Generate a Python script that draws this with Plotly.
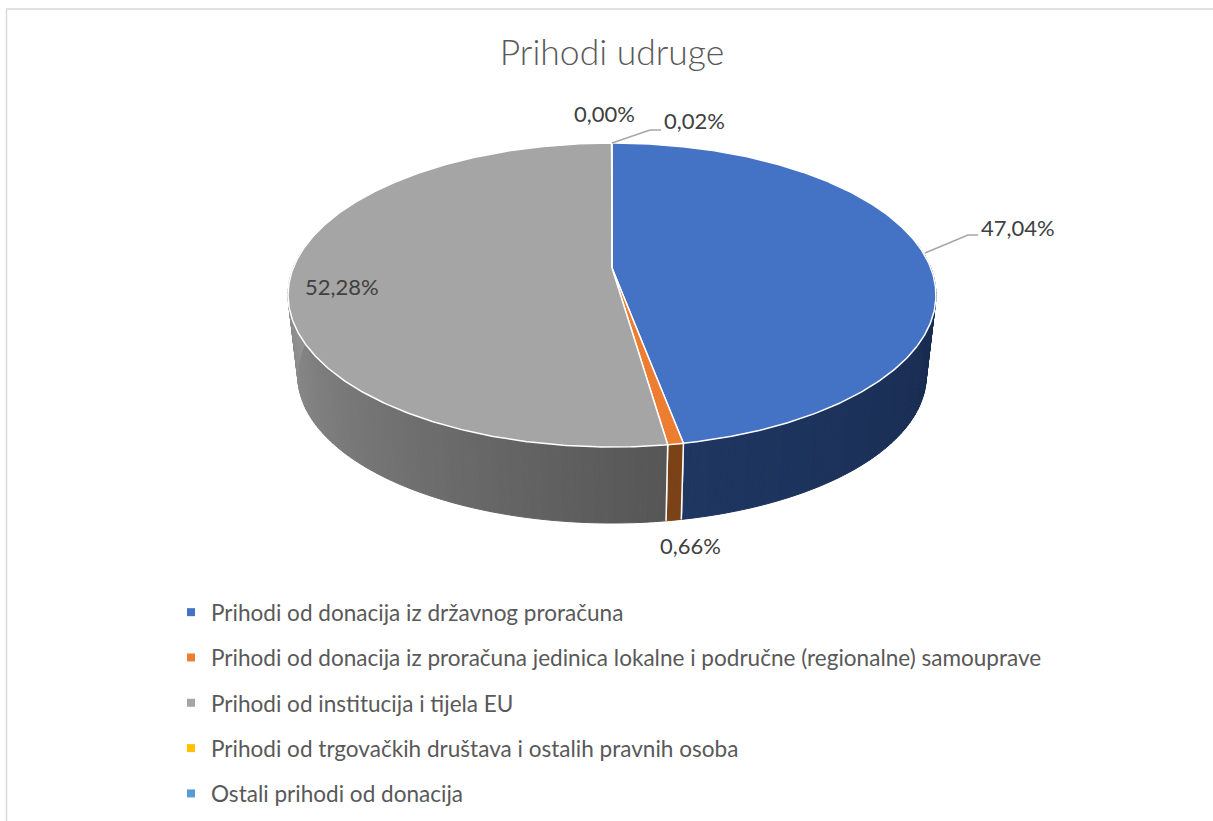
import math
import plotly.graph_objects as go

# ---- data ----
categories = [
    "Prihodi od donacija iz državnog proračuna",
    "Prihodi od donacija iz proračuna jedinica lokalne i područne (regionalne) samouprave",
    "Prihodi od institucija i tijela EU",
    "Prihodi od trgovačkih društava i ostalih pravnih osoba",
    "Ostali prihodi od donacija",
]
values = [47.04, 0.66, 52.28, 0.00, 0.02]
colors = ["#4472C4", "#ED7D31", "#A5A5A5", "#FFC000", "#5B9BD5"]
title = "Prihodi udruge"

# ---- 3D pie projection (style/geometry, in plot units) ----
W, H = 1213, 821
CX, APEX_Y = 612, 268
A, B, K = 318.8, 147.2, 0.1776   # perspective parameters of the top disc
BOTTOM_SCALE, BOTTOM_APEX_Y = 0.97, 349.4
FONT = "Lato"


def top(theta):
    u, v = math.sin(theta), math.cos(theta)
    w = 1 + K * v
    return CX + A * u / w, APEX_Y - B * v / w


def bottom(theta):
    u, v = math.sin(theta), math.cos(theta)
    w = 1 + K * v
    return CX + BOTTOM_SCALE * A * u / w, BOTTOM_APEX_Y - BOTTOM_SCALE * B * v / w


def mix(c1, c2, t):
    return "rgb(%d,%d,%d)" % tuple(round(a + (b - a) * t) for a, b in zip(c1, c2))


SIDE_RAMPS = {
    0: ((22, 40, 74), (30, 54, 97)),
    1: ((122, 66, 22), (122, 66, 22)),
    2: ((86, 86, 86), (152, 152, 152)),
    3: ((128, 96, 0), (128, 96, 0)),
    4: ((46, 78, 107), (46, 78, 107)),
}

total = sum(values)
edges = [0.0]
for v in values:
    edges.append(edges[-1] + v / total * 2 * math.pi)

fig = go.Figure()

# side walls: thin strips, shaded along the visible arc
for i, v in enumerate(values):
    a0, a1 = edges[i], edges[i + 1]
    lo, hi = max(a0, math.radians(80)), min(a1, math.radians(280))
    if hi <= lo:
        continue
    n = max(1, int(math.degrees(hi - lo)))
    c_start, c_end = SIDE_RAMPS[i]
    for j in range(n):
        t0 = lo + (hi - lo) * j / n
        t1 = lo + (hi - lo) * (j + 1) / n
        p = [top(t0), top(t1), bottom(t1), bottom(t0), top(t0)]
        col = mix(c_start, c_end, j / max(n - 1, 1))
        fig.add_trace(go.Scatter(x=[q[0] for q in p], y=[q[1] for q in p], mode="lines",
                                 fill="toself", fillcolor=col, line=dict(color=col, width=1),
                                 showlegend=False, hoverinfo="skip"))
    # white seams between wall segments
    for a in (a0, a1):
        if math.radians(90) < a < math.radians(270):
            p = [top(a), bottom(a)]
            fig.add_trace(go.Scatter(x=[q[0] for q in p], y=[q[1] for q in p], mode="lines",
                                     line=dict(color="white", width=1.5),
                                     showlegend=False, hoverinfo="skip"))

# top disc wedges
for i, v in enumerate(values):
    a0, a1 = edges[i], edges[i + 1]
    n = max(2, int(math.degrees(a1 - a0) * 2))
    arc = [top(a0 + (a1 - a0) * j / n) for j in range(n + 1)]
    p = [(CX, APEX_Y)] + arc + [(CX, APEX_Y)]
    fig.add_trace(go.Scatter(x=[q[0] for q in p], y=[q[1] for q in p], mode="lines",
                             fill="toself", fillcolor=colors[i],
                             line=dict(color="white", width=1.5),
                             showlegend=False, hovertext=categories[i], hoverinfo="text"))

# legend entries
for name, col in zip(categories, colors):
    fig.add_trace(go.Scatter(x=[None], y=[None], mode="markers", name=name, legendgroup=name,
                             marker=dict(symbol="square", size=8, color=col)))

# leader lines
fig.add_trace(go.Scatter(x=[925, 968, 978], y=[253, 235, 235], mode="lines",
                         line=dict(color="#A6A6A6", width=1.5), showlegend=False, hoverinfo="skip"))
fig.add_trace(go.Scatter(x=[612, 650, 661], y=[143, 130, 130], mode="lines",
                         line=dict(color="#A6A6A6", width=1.5), showlegend=False, hoverinfo="skip"))

# data labels
label_pos = [(1018, 227), (690, 545), (342, 286), (604, 113), (694, 120)]
for v, (x, y) in zip(values, label_pos):
    fig.add_annotation(x=x, y=y, xref="x", yref="y", showarrow=False,
                       text=f"{v:.2f}%".replace(".", ","),
                       font=dict(family=FONT, size=22, color="#404040"))

fig.update_layout(
    width=W, height=H, autosize=False,
    margin=dict(l=0, r=0, t=0, b=0),
    paper_bgcolor="white", plot_bgcolor="white",
    title=dict(text=title, x=612 / W, xanchor="center", y=1 - 53 / H, yanchor="middle",
               font=dict(family=FONT, size=35.5, color="#595959", weight=300)),
    xaxis=dict(range=[0, W], visible=False, fixedrange=True),
    yaxis=dict(range=[H, 0], visible=False, fixedrange=True),
    legend=dict(x=171 / W, xanchor="left", y=1 - 591 / H, yanchor="top",
                font=dict(family=FONT, size=22.55, color="#595959"),
                tracegroupgap=13, bgcolor="rgba(0,0,0,0)", itemclick=False, itemdoubleclick=False),
    shapes=[
        dict(type="line", xref="x", yref="y", x0=6, y0=9, x1=W, y1=9,
             line=dict(color="#D9D9D9", width=1.5)),
        dict(type="line", xref="x", yref="y", x0=6.5, y0=9, x1=6.5, y1=H,
             line=dict(color="#D9D9D9", width=1.5)),
    ],
)

fig.write_html("out.html", config=dict(displayModeBar=False),
               post_script="document.body.style.margin='0';document.documentElement.style.overflow='hidden';")
